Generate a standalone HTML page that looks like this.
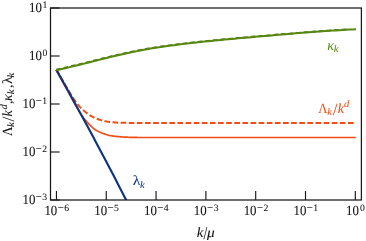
<!DOCTYPE html>
<html><head><meta charset="utf-8"><title>chart</title>
<style>
html,body{margin:0;padding:0;background:#fff;}
body{width:366px;height:241px;overflow:hidden;position:relative;font-family:"Liberation Serif",serif;}
</style></head><body>
<svg width="366" height="241" viewBox="0 0 366 241" style="position:absolute;left:0;top:0;will-change:transform">
<rect width="366" height="241" fill="#fff"/>
<defs><clipPath id="c"><rect x="50.5" y="8.0" width="310.9" height="192.0"/></clipPath></defs>
<g clip-path="url(#c)" fill="none" stroke-linejoin="round">
<polyline points="55.96,69.90 57.03,71.80 58.09,73.71 59.15,75.61 60.22,77.52 61.28,79.42 62.35,81.33 63.41,83.24 64.47,85.15 65.54,87.06 66.60,88.98 67.66,90.90 68.73,92.81 69.79,94.73 70.86,96.65 71.92,98.56 72.98,100.47 74.05,102.38 75.11,104.29 76.17,106.19 77.24,108.05 78.30,109.92 79.37,111.76 80.43,113.49 81.49,115.08 82.56,116.58 83.62,117.99 84.68,119.32 85.75,120.54 86.81,121.74 87.88,122.94 88.94,124.12 90.00,125.20 91.07,126.22 92.13,127.19 93.19,128.10 94.26,128.94 95.32,129.69 96.39,130.37 97.45,130.99 98.51,131.55 99.58,132.08 100.64,132.58 101.70,133.04 102.77,133.45 103.83,133.81 104.90,134.15 105.96,134.48 107.02,134.79 108.09,135.08 109.15,135.34 110.21,135.57 111.28,135.76 112.34,135.93 113.41,136.08 114.47,136.22 115.53,136.35 116.60,136.47 117.66,136.57 118.72,136.67 119.79,136.75 120.85,136.83 121.92,136.91 122.98,136.98 124.04,137.04 125.11,137.10 126.17,137.16 127.23,137.21 128.30,137.25 129.36,137.29 130.43,137.32 131.49,137.35 132.55,137.38 133.62,137.41 134.68,137.43 135.74,137.45 136.81,137.47 137.87,137.49 138.94,137.50 140.00,137.50 355.85,137.5" stroke="#f04e16" stroke-width="1.7"/>
<polyline points="56.60,69.70 57.66,71.61 58.71,73.51 59.77,75.39 60.82,77.26 61.88,79.12 62.94,80.97 63.99,82.80 65.05,84.63 66.10,86.44 67.16,88.24 68.21,90.02 69.27,91.76 70.33,93.48 71.38,95.19 72.44,96.86 73.49,98.47 74.55,100.00 75.60,101.49 76.66,102.95 77.71,104.34 78.77,105.64 79.83,106.84 80.88,107.93 81.94,108.96 82.99,109.93 84.05,110.84 85.10,111.70 86.16,112.54 87.22,113.35 88.27,114.12 89.33,114.86 90.38,115.54 91.44,116.16 92.49,116.72 93.55,117.25 94.61,117.74 95.66,118.21 96.72,118.65 97.77,119.06 98.83,119.44 99.88,119.80 100.94,120.13 102.00,120.45 103.05,120.75 104.11,121.01 105.16,121.23 106.22,121.44 107.27,121.63 108.33,121.80 109.39,121.96 110.44,122.09 111.50,122.20 112.55,122.29 113.61,122.37 114.66,122.45 115.72,122.52 116.78,122.58 117.83,122.63 118.89,122.67 119.94,122.71 121.00,122.74 122.05,122.76 123.11,122.79 124.16,122.81 125.22,122.83 126.28,122.85 127.33,122.87 128.39,122.88 129.44,122.90 130.50,122.91 131.55,122.92 132.61,122.94 133.67,122.95 134.72,122.96 135.78,122.97 136.83,122.98 137.89,122.99 138.94,122.99 140.00,123.00 355.8,123.0" stroke="#f04e16" stroke-width="2.0" stroke-dasharray="5.7 2.42" stroke-dashoffset="-7.83"/>
<polyline points="56.30,69.70 58.84,74.23 61.37,78.76 63.89,83.28 66.40,87.81 68.90,92.34 71.40,96.87 73.89,101.39 76.37,105.92 78.84,110.45 81.31,114.98 83.77,119.50 86.22,124.03 88.66,128.56 91.09,133.09 93.52,137.61 95.94,142.14 98.35,146.67 100.75,151.20 103.15,155.72 105.54,160.25 107.92,164.78 110.29,169.31 112.65,173.83 115.01,178.36 117.36,182.89 119.70,187.42 122.03,191.94 124.35,196.47 126.67,201.00" stroke="#0e3580" stroke-width="2.15"/>
<polyline points="56.20,69.60 59.57,68.83 62.94,68.06 66.31,67.28 69.68,66.49 73.05,65.70 76.42,64.90 79.79,64.10 83.16,63.28 86.53,62.45 89.90,61.60 93.27,60.74 96.64,59.87 100.01,59.01 103.38,58.16 106.74,57.33 110.11,56.51 113.48,55.72 116.85,54.96 120.22,54.21 123.59,53.47 126.96,52.73 130.33,52.00 133.70,51.29 137.07,50.60 140.44,49.93 143.81,49.29 147.18,48.67 150.55,48.09 153.92,47.54 157.29,47.01 160.66,46.51 164.03,46.02 167.40,45.55 170.77,45.09 174.14,44.65 177.51,44.22 180.88,43.80 184.25,43.39 187.62,42.99 190.99,42.61 194.36,42.23 197.73,41.86 201.10,41.51 204.47,41.16 207.83,40.82 211.20,40.48 214.57,40.15 217.94,39.83 221.31,39.51 224.68,39.19 228.05,38.87 231.42,38.56 234.79,38.25 238.16,37.95 241.53,37.65 244.90,37.36 248.27,37.06 251.64,36.77 255.01,36.48 258.38,36.19 261.75,35.90 265.12,35.60 268.49,35.31 271.86,35.02 275.23,34.73 278.60,34.44 281.97,34.15 285.34,33.87 288.71,33.59 292.08,33.31 295.45,33.04 298.82,32.78 302.19,32.51 305.56,32.25 308.92,31.99 312.29,31.74 315.66,31.49 319.03,31.24 322.40,31.00 325.77,30.76 329.14,30.54 332.51,30.32 335.88,30.10 339.25,29.90 342.62,29.70 345.99,29.50 349.36,29.31" stroke="#578611" stroke-width="1.8" stroke-dasharray="4.6 3"/>
<polyline points="56.20,70.25 59.57,69.48 62.94,68.70 66.31,67.91 69.68,67.12 73.05,66.33 76.42,65.53 79.79,64.72 83.16,63.90 86.53,63.06 89.90,62.20 93.27,61.34 96.64,60.47 100.01,59.61 103.38,58.75 106.74,57.91 110.11,57.09 113.48,56.29 116.85,55.53 120.22,54.77 123.59,54.03 126.96,53.28 130.33,52.55 133.70,51.84 137.07,51.14 140.44,50.47 143.81,49.82 147.18,49.20 150.55,48.61 153.92,48.06 157.29,47.53 160.66,47.02 164.03,46.53 167.40,46.05 170.77,45.59 174.14,45.14 177.51,44.71 180.88,44.29 184.25,43.87 187.62,43.47 190.99,43.08 194.36,42.69 197.73,42.32 201.10,41.96 204.47,41.61 207.83,41.27 211.20,40.93 214.57,40.59 217.94,40.26 221.31,39.94 224.68,39.61 228.05,39.29 231.42,38.97 234.79,38.66 238.16,38.36 241.53,38.06 244.90,37.76 248.27,37.46 251.64,37.16 255.01,36.87 258.38,36.57 261.75,36.27 265.12,35.98 268.49,35.68 271.86,35.38 275.23,35.09 278.60,34.79 281.97,34.50 285.34,34.21 288.71,33.93 292.08,33.65 295.45,33.37 298.82,33.11 302.19,32.84 305.56,32.57 308.92,32.31 312.29,32.05 315.66,31.79 319.03,31.54 322.40,31.29 325.77,31.06 329.14,30.82 332.51,30.60 335.88,30.38 339.25,30.17 342.62,29.96 345.99,29.76 349.36,29.57 352.73,29.38 356.10,29.20" stroke="#578611" stroke-width="2.0"/>
</g>
<rect x="50.5" y="8.0" width="310.90" height="192.00" fill="none" stroke="#181818" stroke-width="1.25"/>
<line x1="56.45" y1="200.0" x2="56.45" y2="190.90" stroke="#181818" stroke-width="1.15"/>
<line x1="106.26" y1="200.0" x2="106.26" y2="190.90" stroke="#181818" stroke-width="1.15"/>
<line x1="156.07" y1="200.0" x2="156.07" y2="190.90" stroke="#181818" stroke-width="1.15"/>
<line x1="205.88" y1="200.0" x2="205.88" y2="190.90" stroke="#181818" stroke-width="1.15"/>
<line x1="255.69" y1="200.0" x2="255.69" y2="190.90" stroke="#181818" stroke-width="1.15"/>
<line x1="305.50" y1="200.0" x2="305.50" y2="190.90" stroke="#181818" stroke-width="1.15"/>
<line x1="355.31" y1="200.0" x2="355.31" y2="190.90" stroke="#181818" stroke-width="1.15"/>
<line x1="50.5" y1="8.00" x2="59.65" y2="8.00" stroke="#181818" stroke-width="1.15"/>
<line x1="50.5" y1="56.00" x2="59.65" y2="56.00" stroke="#181818" stroke-width="1.15"/>
<line x1="50.5" y1="104.00" x2="59.65" y2="104.00" stroke="#181818" stroke-width="1.15"/>
<line x1="50.5" y1="152.00" x2="59.65" y2="152.00" stroke="#181818" stroke-width="1.15"/>
<line x1="50.5" y1="200.00" x2="59.65" y2="200.00" stroke="#181818" stroke-width="1.15"/>
<g font-family="'Liberation Serif', serif" fill="#111" stroke="#111" stroke-width="0.06" text-rendering="geometricPrecision">
<text transform="translate(44.40,214.55) scale(0.92,1)" font-size="14.0">10</text><text transform="translate(57.65,210.65) scale(1.0,1)" font-size="10.8">−</text><text transform="translate(64.25,210.50) scale(1.0,1)" font-size="9.7">6</text>
<text transform="translate(94.21,214.55) scale(0.92,1)" font-size="14.0">10</text><text transform="translate(107.46,210.65) scale(1.0,1)" font-size="10.8">−</text><text transform="translate(114.06,210.50) scale(1.0,1)" font-size="9.7">5</text>
<text transform="translate(144.02,214.55) scale(0.92,1)" font-size="14.0">10</text><text transform="translate(157.27,210.65) scale(1.0,1)" font-size="10.8">−</text><text transform="translate(163.87,210.50) scale(1.0,1)" font-size="9.7">4</text>
<text transform="translate(193.83,214.55) scale(0.92,1)" font-size="14.0">10</text><text transform="translate(207.08,210.65) scale(1.0,1)" font-size="10.8">−</text><text transform="translate(213.68,210.50) scale(1.0,1)" font-size="9.7">3</text>
<text transform="translate(243.64,214.55) scale(0.92,1)" font-size="14.0">10</text><text transform="translate(256.89,210.65) scale(1.0,1)" font-size="10.8">−</text><text transform="translate(263.49,210.50) scale(1.0,1)" font-size="9.7">2</text>
<text transform="translate(293.45,214.55) scale(0.92,1)" font-size="14.0">10</text><text transform="translate(306.70,210.65) scale(1.0,1)" font-size="10.8">−</text><text transform="translate(313.30,210.50) scale(1.0,1)" font-size="9.7">1</text>
<text transform="translate(346.11,214.55) scale(0.92,1)" font-size="14.0">10</text><text transform="translate(360.01,210.50) scale(1.0,1)" font-size="9.7">0</text>
<text transform="translate(29.00,11.80) scale(0.92,1)" font-size="14.0">10</text><text transform="translate(42.40,7.75) scale(1.0,1)" font-size="9.7">1</text>
<text transform="translate(29.00,59.80) scale(0.92,1)" font-size="14.0">10</text><text transform="translate(42.40,55.75) scale(1.0,1)" font-size="9.7">0</text>
<text transform="translate(22.45,107.80) scale(0.92,1)" font-size="14.0">10</text><text transform="translate(35.70,103.90) scale(1.0,1)" font-size="10.8">−</text><text transform="translate(42.30,103.75) scale(1.0,1)" font-size="9.7">1</text>
<text transform="translate(22.45,155.80) scale(0.92,1)" font-size="14.0">10</text><text transform="translate(35.70,151.90) scale(1.0,1)" font-size="10.8">−</text><text transform="translate(42.30,151.75) scale(1.0,1)" font-size="9.7">2</text>
<text transform="translate(22.45,203.80) scale(0.92,1)" font-size="14.0">10</text><text transform="translate(35.70,199.90) scale(1.0,1)" font-size="10.8">−</text><text transform="translate(42.30,199.75) scale(1.0,1)" font-size="9.7">3</text>
<g transform="translate(196.9,236.5)"><text transform="translate(-0.22,0.00) scale(1.05,1)" font-size="14.0" font-style="italic">k</text><text transform="translate(6.60,2.80) scale(0.75,1)" font-size="18.0">/</text><text transform="translate(10.02,0.00) scale(1.1,1)" font-size="14.0" font-style="italic">μ</text></g>
<g transform="translate(11.8,136.1) rotate(-90)"><text transform="translate(0.07,0.00) scale(0.92,1)" font-size="14.0">Λ</text><text transform="translate(9.10,2.50) scale(1.1,1)" font-size="9.6" font-style="italic">k</text><text transform="translate(14.50,2.10) scale(1.0,1)" font-size="17.0">/</text><text transform="translate(19.50,0.00) scale(1.0,1)" font-size="14.0" font-style="italic">k</text><text transform="translate(26.68,-5.20) scale(1.1,1)" font-size="9.6" font-style="italic">d</text><text transform="translate(32.07,0.00) scale(1.0,1)" font-size="14.0">,</text><text transform="translate(35.09,0.00) scale(1.0,1)" font-size="14.0" font-style="italic">κ</text><text transform="translate(41.90,1.80) scale(1.1,1)" font-size="9.6" font-style="italic">k</text><text transform="translate(48.07,0.00) scale(1.0,1)" font-size="14.0">,</text><text transform="translate(51.99,0.00) scale(1.1,1)" font-size="14.0">λ</text><text transform="translate(58.60,2.10) scale(1.1,1)" font-size="9.6" font-style="italic">k</text></g>
</g>
<g font-family="'Liberation Serif', serif" stroke-width="0.05" text-rendering="geometricPrecision">
<g transform="translate(327.5,50.1)" fill="#578611" stroke="#578611"><text transform="translate(-0.31,0.00) scale(1.0,1)" font-size="14.0" font-style="italic">κ</text><text transform="translate(6.20,2.10) scale(1.1,1)" font-size="9.6" font-style="italic">k</text></g>
<g transform="translate(318.2,112.85)" fill="#f04e16" stroke="#f04e16"><text transform="translate(0.07,0.00) scale(0.92,1)" font-size="14.0">Λ</text><text transform="translate(9.10,2.50) scale(1.1,1)" font-size="9.6" font-style="italic">k</text><text transform="translate(14.50,2.10) scale(1.0,1)" font-size="17.0">/</text><text transform="translate(19.50,0.00) scale(1.0,1)" font-size="14.0" font-style="italic">k</text><text transform="translate(25.68,-5.50) scale(1.1,1)" font-size="9.6" font-style="italic">d</text></g>
<g transform="translate(133.0,184.75)" fill="#0e3580" stroke="#0e3580"><text transform="translate(-0.21,0.00) scale(1.12,1)" font-size="14.0">λ</text><text transform="translate(7.00,3.20) scale(1.1,1)" font-size="9.6" font-style="italic">k</text></g>
</g>
</svg>
</body></html>
